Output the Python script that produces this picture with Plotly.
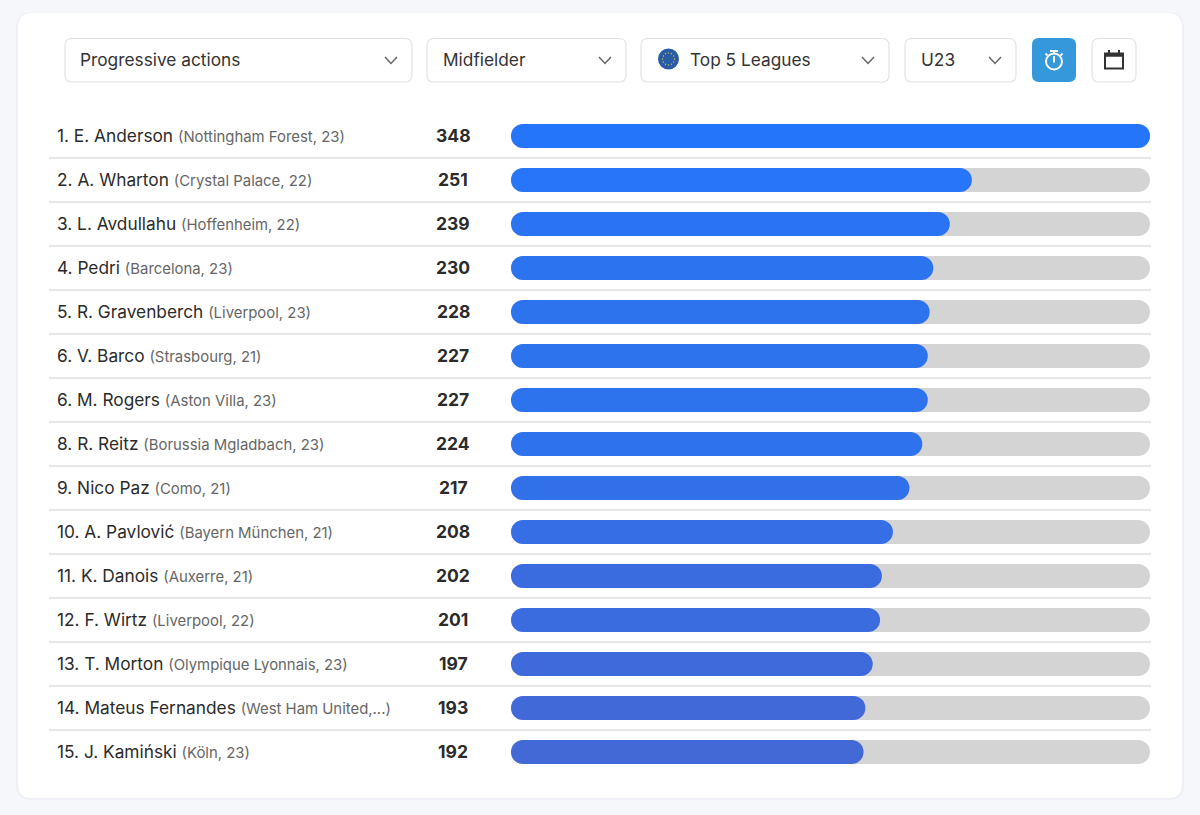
import plotly.graph_objects as go

W, H = 1200, 815

ranks = [1, 2, 3, 4, 5, 6, 6, 8, 9, 10, 11, 12, 13, 14, 15]
players = ["E. Anderson", "A. Wharton", "L. Avdullahu", "Pedri", "R. Gravenberch", "V. Barco", "M. Rogers",
           "R. Reitz", "Nico Paz", "A. Pavlović", "K. Danois", "F. Wirtz", "T. Morton", "Mateus Fernandes", "J. Kamiński"]
details = ["Nottingham Forest, 23", "Crystal Palace, 22", "Hoffenheim, 22", "Barcelona, 23", "Liverpool, 23",
           "Strasbourg, 21", "Aston Villa, 23", "Borussia Mgladbach, 23", "Como, 21", "Bayern München, 21",
           "Auxerre, 21", "Liverpool, 22", "Olympique Lyonnais, 23", "West Ham United,...", "Köln, 23"]
values = [348, 251, 239, 230, 228, 227, 227, 224, 217, 208, 202, 201, 197, 193, 192]

metric = "Progressive actions"
position = "Midfielder"
league = "Top 5 Leagues"
age_group = "U23"

top_value = max(values)
low_value = min(values)

color_stops = [[0, "#4369d7"], [0.03, "#3f6adb"], [0.10, "#356ee5"], [0.224, "#2d73ee"], [0.378, "#2775f8"],
               [1, "#2575fb"]]


def px(x):
    return x / W


def py(y):
    return 1 - y / H


def round_rect(x0, y0, x1, y1, r):
    a, b, c, d = px(x0), py(y0), px(x1), py(y1)
    rx, ry = r / W, r / H
    return (f"M {a + rx} {b} L {c - rx} {b} Q {c} {b} {c} {b - ry} L {c} {d + ry} Q {c} {d} {c - rx} {d} "
            f"L {a + rx} {d} Q {a} {d} {a} {d + ry} L {a} {b - ry} Q {a} {b} {a + rx} {b} Z")


def poly(points, close=False):
    path = "M " + " L ".join(f"{px(x)} {py(y)}" for x, y in points)
    return path + (" Z" if close else "")


def paper_shape(path, fill="rgba(0,0,0,0)", line="rgba(0,0,0,0)", width=0):
    return dict(type="path", xref="paper", yref="paper", path=path, fillcolor=fill,
                line=dict(color=line, width=width), layer="below")


def circle(cx, cy, r, fill="rgba(0,0,0,0)", line="rgba(0,0,0,0)", width=0):
    return dict(type="circle", xref="paper", yref="paper", x0=px(cx - r), x1=px(cx + r), y0=py(cy + r), y1=py(cy - r),
                fillcolor=fill, line=dict(color=line, width=width), layer="below")


fig = go.Figure()
# an explicit base makes plotly round both ends of the bar, not only the tip
fig.add_bar(x=[top_value] * 15, base=[0] * 15, y=players, orientation="h",
            marker=dict(color="#d4d4d4", line_width=0), hoverinfo="skip")
fig.add_bar(x=values, base=[0] * 15, y=players, orientation="h",
            marker=dict(color=values, cmin=low_value, cmax=top_value, line_width=0, colorscale=color_stops,
                        showscale=False))

shapes = []
# card
shapes.append(paper_shape(round_rect(16, 12, 1184, 800, 15), fill="rgba(90,100,130,0.04)"))
shapes.append(paper_shape(round_rect(18, 13, 1182, 798, 14), fill="white"))

# filter boxes
for x0, x1 in [(65, 412), (427, 626), (641, 889), (905, 1016), (1092, 1136)]:
    shapes.append(paper_shape(round_rect(x0, 38.5, x1, 82, 7), fill="white", line="#e2e2e2", width=1.2))
shapes.append(paper_shape(round_rect(1032, 38, 1076, 82, 7), fill="#3498db"))

# chevrons
for cx in [391, 605, 868, 995]:
    shapes.append(paper_shape(poly([(cx - 6, 57), (cx, 63.5), (cx + 6, 57)]), line="#666666", width=1.5))

# EU badge
shapes.append(circle(668.5, 59, 10.5, fill="#2a5ca6"))
for dx, dy in [(0, -6), (3, -5.2), (5.2, -3), (6, 0), (5.2, 3), (3, 5.2), (0, 6), (-3, 5.2), (-5.2, 3), (-6, 0),
               (-5.2, -3), (-3, -5.2)]:
    shapes.append(circle(668.5 + dx, 59 + dy, 0.7, fill="#d8bd3a"))

# stopwatch
shapes.append(circle(1054, 61.5, 8, line="white", width=2))
shapes.append(paper_shape(poly([(1054, 56), (1054, 62.5)]), line="white", width=2))
shapes.append(paper_shape(poly([(1050, 51), (1058, 51)]), line="white", width=2))
shapes.append(paper_shape(poly([(1054, 51), (1054, 54)]), line="white", width=2))
shapes.append(paper_shape(poly([(1045.5, 53.5), (1047.5, 55.5)]), line="white", width=1.8))
shapes.append(paper_shape(poly([(1062.5, 53.5), (1060.5, 55.5)]), line="white", width=1.8))

# calendar
shapes.append(paper_shape(poly([(1105, 53.5), (1123, 53.5), (1123, 68.5), (1105, 68.5)], close=True), line="#333333",
                          width=2))
shapes.append(paper_shape(poly([(1105, 55), (1123, 55)]), line="#333333", width=3.5))
shapes.append(paper_shape(poly([(1109, 50), (1109, 54)]), line="#333333", width=2))
shapes.append(paper_shape(poly([(1119, 50), (1119, 54)]), line="#333333", width=2))

# row separators
for i in range(len(players) - 1):
    shapes.append(dict(type="line", xref="paper", yref="y", x0=px(49), x1=px(1151), y0=i + 0.5, y1=i + 0.5,
                       line=dict(color="#dedede", width=1.3), layer="below"))

annotations = []


def filter_text(x, text):
    annotations.append(dict(xref="paper", yref="paper", x=px(x), y=py(59.3), text=text, showarrow=False, xanchor="left",
                            yanchor="middle", borderpad=0, font=dict(size=17.3, color="#333333")))


filter_text(79, metric)
filter_text(442, position)
filter_text(689, league)
filter_text(920, age_group)

for rank, player, detail, value in zip(ranks, players, details, values):
    label = f"{rank}. {player} <span style='font-size:14.9px;color:#666666'>({detail})</span>"
    annotations.append(dict(xref="paper", yref="y", x=px(56), y=player, text=label, showarrow=False, xanchor="left",
                            yanchor="middle", borderpad=0, yshift=0.6, font=dict(size=17.3, color="#2b2b2b")))
    annotations.append(dict(xref="paper", yref="y", x=px(453), y=player, text=f"<b>{value}</b>", showarrow=False,
                            xanchor="center", yanchor="middle", borderpad=0, yshift=0.6,
                            font=dict(size=17.5, color="#2b2b2b")))

fig.update_layout(
    width=W, height=H, margin=dict(l=0, r=0, t=0, b=0), autosize=False,
    paper_bgcolor="#f5f7fb", plot_bgcolor="rgba(0,0,0,0)",
    font=dict(family="Inter, 'Noto Sans', sans-serif"),
    barmode="overlay", bargap=0.4545, barcornerradius=12, showlegend=False,
    xaxis=dict(domain=[px(511), px(1150)], range=[0, top_value], visible=False, fixedrange=True),
    yaxis=dict(domain=[py(774), py(114)], autorange=False, range=[14.5, -0.5], type="category", visible=False,
               fixedrange=True),
    shapes=shapes, annotations=annotations,
)

fig.write_html("out.html", config={"displayModeBar": False}, post_script="document.body.style.margin='0';")
